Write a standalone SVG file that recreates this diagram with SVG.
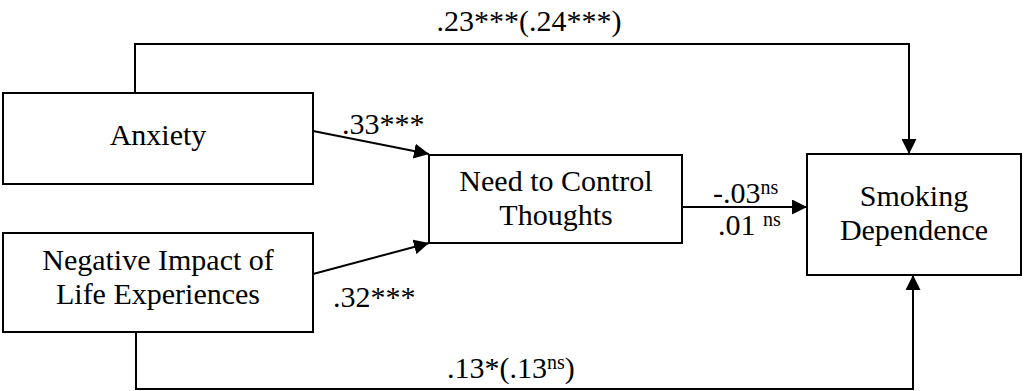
<svg xmlns="http://www.w3.org/2000/svg" width="1024" height="391" viewBox="0 0 1024 391">
  <defs>
    <style>
      .box { fill: #ffffff; stroke: #000000; stroke-width: 2; }
      .edge { fill: none; stroke: #000000; stroke-width: 2; }
    </style>
    <marker id="arrL" viewBox="0 0 10 10" refX="10" refY="5" markerWidth="15" markerHeight="15" markerUnits="userSpaceOnUse" orient="auto">
      <path d="M0,0 L10,5 L0,10 z" fill="#000000"/>
    </marker>
  </defs>
  <rect width="1024" height="391" fill="#ffffff"/>

  <g id="connectors">
    <path class="edge" d="M135,93 V44 H909 V154" marker-end="url(#arrL)"/>
    <path class="edge" d="M136,332 V389 H913 V275" marker-end="url(#arrL)"/>
    <path class="edge" d="M313,131 L429,154" marker-end="url(#arrL)"/>
    <path class="edge" d="M313,274 L429,243" marker-end="url(#arrL)"/>
    <path class="edge" d="M682,207 L807,207" marker-end="url(#arrL)"/>
  </g>

  <g id="anxiety">
    <rect class="box" x="3" y="93" width="310" height="91"/>
    <text x="158" y="145" font-size="30" font-family="Liberation Serif" text-anchor="middle">Anxiety</text>
  </g>

  <g id="negative-impact">
    <rect class="box" x="3" y="233" width="310" height="99"/>
    <text x="158" y="270" font-size="30" font-family="Liberation Serif" text-anchor="middle">Negative Impact of</text>
    <text x="158" y="304" font-size="30" font-family="Liberation Serif" text-anchor="middle">Life Experiences</text>
  </g>

  <g id="need-to-control">
    <rect class="box" x="429" y="155" width="253" height="88"/>
    <text x="556" y="191" font-size="30" font-family="Liberation Serif" text-anchor="middle">Need to Control</text>
    <text x="556" y="225" font-size="30" font-family="Liberation Serif" text-anchor="middle">Thoughts</text>
  </g>

  <g id="smoking-dependence">
    <rect class="box" x="807" y="154" width="214" height="121"/>
    <text x="914" y="206" font-size="30" font-family="Liberation Serif" text-anchor="middle">Smoking</text>
    <text x="914" y="240" font-size="30" font-family="Liberation Serif" text-anchor="middle">Dependence</text>
  </g>

  <g id="labels">
    <text x="529" y="31" font-size="30" font-family="Liberation Serif" text-anchor="middle">.23***(.24***)</text>
    <text x="342" y="134" font-size="30" font-family="Liberation Serif">.33***</text>
    <text x="333" y="307" font-size="30" font-family="Liberation Serif">.32***</text>
    <text x="713" y="203" font-size="30" font-family="Liberation Serif">-.03<tspan font-size="20" dy="-9">ns</tspan></text>
    <text x="718" y="235" font-size="30" font-family="Liberation Serif">.01 <tspan font-size="20" dy="-9">ns</tspan></text>
    <text x="447" y="378" font-size="30" font-family="Liberation Serif">.13*(.13<tspan font-size="20" dy="-9">ns</tspan><tspan dy="9">)</tspan></text>
  </g>
</svg>
